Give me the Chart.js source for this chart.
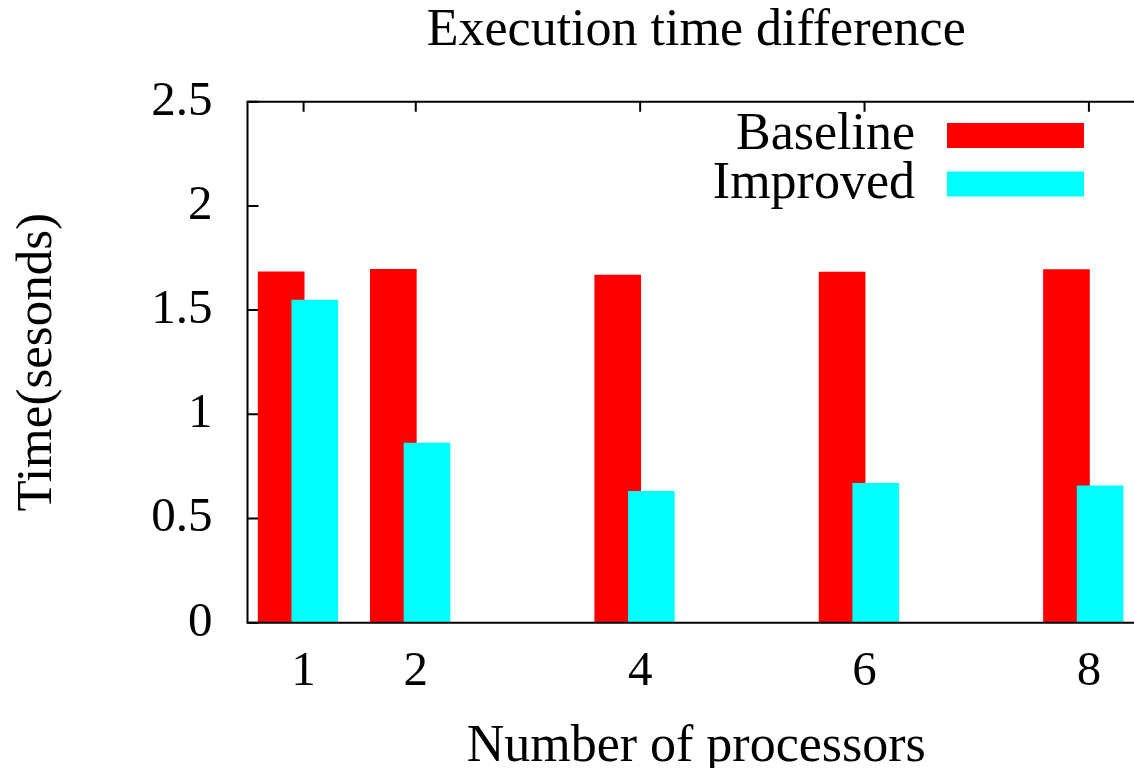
<!DOCTYPE html>
<html lang="en">
<head>
    <meta charset="UTF-8">
    <title>Execution time difference</title>
    <script src="https://cdn.jsdelivr.net/npm/chart.js"></script>
    <style>
        html, body { margin: 0; padding: 0; background: #fff; overflow: hidden; }
        #wrap { width: 1134px; height: 768px; overflow: hidden; }
    </style>
</head>
<body>
    <div id="wrap">
        <canvas id="timeChart" width="1146" height="768"></canvas>
    </div>

    <script>
        // data
        const processors = [1, 2, 4, 6, 8];
        const baselineTimes = [1.684, 1.696, 1.668, 1.683, 1.694];
        const improvedTimes = [1.548, 0.862, 0.630, 0.669, 0.657];
        const xTickValues = [1, 2, 4, 6, 8];
        const yTickValues = [0, 0.5, 1, 1.5, 2, 2.5];
        const chartTitle = 'Execution time difference';

        const serif = "'Liberation Serif', 'Times New Roman', serif";

        // gnuplot style boxes: the two series sit slightly left/right of each x
        function toPoints(values, shift) {
            return values.map((v, i) => ({ x: processors[i] + shift, y: v }));
        }

        // draws the gnuplot-like frame, inward ticks, title and the legend
        const gnuFrame = {
            id: 'gnuFrame',
            beforeDatasetsDraw(chart) {
                const ctx = chart.ctx;
                const area = chart.chartArea;
                const xs = chart.scales.x;
                const ys = chart.scales.y;
                ctx.save();
                ctx.strokeStyle = '#000';
                ctx.lineWidth = 2;
                ctx.beginPath();
                xTickValues.forEach(v => {
                    const px = xs.getPixelForValue(v);
                    ctx.moveTo(px, area.top);
                    ctx.lineTo(px, area.top + 10);
                    ctx.moveTo(px, area.bottom);
                    ctx.lineTo(px, area.bottom - 10);
                });
                yTickValues.forEach(v => {
                    const py = ys.getPixelForValue(v);
                    ctx.moveTo(area.left, py);
                    ctx.lineTo(area.left + 11, py);
                });
                ctx.stroke();
                ctx.restore();
            },
            afterDatasetsDraw(chart) {
                const ctx = chart.ctx;
                const area = chart.chartArea;
                ctx.save();
                ctx.strokeStyle = '#000';
                ctx.lineWidth = 2;
                ctx.beginPath();
                ctx.moveTo(area.right, area.top);
                ctx.lineTo(area.left, area.top);
                ctx.lineTo(area.left, area.bottom);
                ctx.lineTo(area.right, area.bottom);
                ctx.stroke();

                // title centred over the plot area
                ctx.fillStyle = '#000';
                ctx.font = '52px ' + serif;
                ctx.textAlign = 'center';
                ctx.textBaseline = 'alphabetic';
                ctx.fillText(chartTitle, (area.left + area.right) / 2, 45);

                // legend, text on the left of a wide swatch
                ctx.font = '52px ' + serif;
                ctx.textAlign = 'right';
                ctx.textBaseline = 'middle';
                chart.data.datasets.forEach((ds, i) => {
                    const cy = 135.5 + i * 48.5;
                    ctx.fillStyle = '#000';
                    ctx.fillText(ds.label, 915, cy);
                    ctx.fillStyle = ds.backgroundColor;
                    ctx.fillRect(947, cy - 12.5, 137, 25);
                });
                ctx.restore();
            }
        };

        const ctx = document.getElementById('timeChart').getContext('2d');

        new Chart(ctx, {
            type: 'bar',
            data: {
                datasets: [{
                    label: 'Baseline',
                    data: toPoints(baselineTimes, -0.2),
                    backgroundColor: '#ff0000',
                    borderWidth: 0,
                    barThickness: 46,
                    grouped: false,
                    order: 1
                }, {
                    label: 'Improved',
                    data: toPoints(improvedTimes, 0.1),
                    backgroundColor: '#00ffff',
                    borderWidth: 0,
                    barThickness: 46,
                    grouped: false,
                    order: 0
                }]
            },
            options: {
                responsive: false,
                animation: false,
                devicePixelRatio: 1,
                layout: { padding: { left: 0, right: 1, top: 101.7, bottom: 0 } },
                plugins: {
                    legend: { display: false },
                    tooltip: { enabled: false },
                    title: { display: false }
                },
                scales: {
                    x: {
                        type: 'linear',
                        min: 0.5,
                        max: 8.5,
                        offset: false,
                        grid: { display: false, drawTicks: false },
                        border: { display: false },
                        afterBuildTicks: scale => {
                            scale.ticks = xTickValues.map(v => ({ value: v }));
                        },
                        afterFit: scale => { scale.height = 145.3; },
                        ticks: {
                            color: '#000',
                            padding: 20,
                            maxRotation: 0,
                            autoSkip: false,
                            font: { family: serif, size: 49 },
                            callback: v => String(v)
                        },
                        title: {
                            display: true,
                            text: 'Number of processors',
                            color: '#000',
                            font: { family: serif, size: 52, lineHeight: 0.8 },
                            padding: { top: 0, bottom: 0 }
                        }
                    },
                    y: {
                        min: 0,
                        max: 2.5,
                        grid: { display: false, drawTicks: false },
                        border: { display: false },
                        afterBuildTicks: scale => {
                            scale.ticks = yTickValues.map(v => ({ value: v }));
                        },
                        afterFit: scale => { scale.width = 247.5; },
                        ticks: {
                            color: '#000',
                            padding: 35,
                            font: { family: serif, size: 49 },
                            callback: v => String(v)
                        },
                        title: {
                            display: true,
                            text: 'Time(sesonds)',
                            color: '#000',
                            font: { family: serif, size: 51 },
                            padding: { top: 7, bottom: 0 }
                        }
                    }
                }
            },
            plugins: [gnuFrame]
        });
    </script>
</body>
</html>
